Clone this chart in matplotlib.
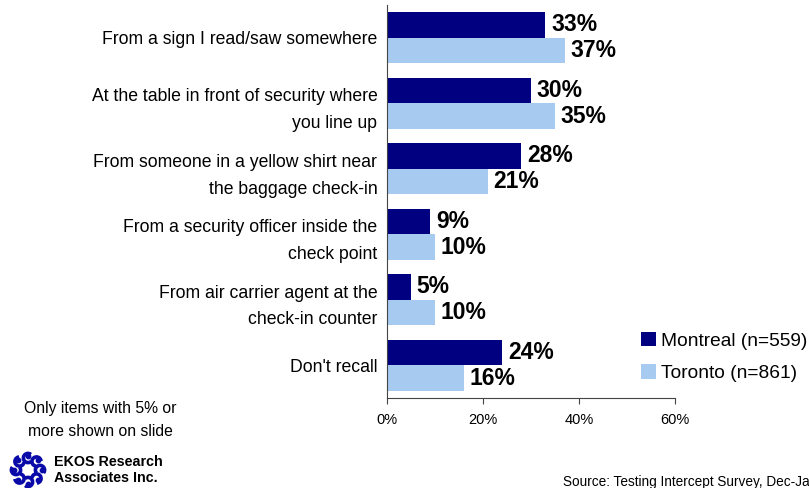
import numpy as np
import matplotlib.pyplot as plt
from matplotlib.patches import Patch, Arc

plt.rcParams['font.family'] = ['Liberation Sans', 'DejaVu Sans']

categories = [
    "From a sign I read/saw somewhere",
    "At the table in front of security where\nyou line up",
    "From someone in a yellow shirt near\nthe baggage check-in",
    "From a security officer inside the\ncheck point",
    "From air carrier agent at the\ncheck-in counter",
    "Don't recall",
]
montreal = [33, 30, 28, 9, 5, 24]
toronto = [37, 35, 21, 10, 10, 16]
series_names = ["Montreal (n=559)", "Toronto (n=861)"]
xticks = [0, 20, 40, 60]

NAVY = "#000080"
LIGHT = "#A6CAF0"
W, H = 809, 488

fig = plt.figure(figsize=(W / 100, H / 100), dpi=100)
ax = fig.add_axes([387 / W, 1 - 398 / H, 288 / W, 393 / H])

y = np.arange(len(categories))
h = 0.39
ax.barh(y - h / 2, montreal, height=h, color=NAVY)
ax.barh(y + h / 2, toronto, height=h, color=LIGHT)

for yi, v in zip(y - h / 2, montreal):
    ax.text(v + 1.2, yi, f"{v}%", va="center", ha="left",
            fontsize=16.5, fontweight="bold")
for yi, v in zip(y + h / 2, toronto):
    ax.text(v + 1.2, yi, f"{v}%", va="center", ha="left",
            fontsize=16.5, fontweight="bold")

ax.set_xlim(0, 60)
ax.set_ylim(len(categories) - 0.5, -0.5)
ax.set_xticks(xticks)
ax.set_xticklabels([f"{t}%" for t in xticks], fontsize=10.5)
ax.set_yticks(y)
ax.set_yticklabels(categories, fontsize=12.7, linespacing=1.75)
ax.tick_params(axis="y", length=0, pad=7)
ax.tick_params(axis="x", direction="out", length=4, pad=7, color="#444444")
for side in ["top", "right"]:
    ax.spines[side].set_visible(False)
ax.spines["left"].set_color("#444444")
ax.spines["bottom"].set_color("#444444")

handles = [Patch(facecolor=NAVY), Patch(facecolor=LIGHT)]
fig.legend(handles, series_names, loc="upper left",
           bbox_to_anchor=(633 / W, 1 - 324 / H), frameon=False,
           fontsize=13.8, handlelength=0.78, handleheight=0.78,
           handletextpad=0.26, labelspacing=0.77, borderaxespad=0)

# footnotes
fig.text(100 / W, 1 - 409 / H, "Only items with 5% or", ha="center",
         va="center", fontsize=11.3)
fig.text(100 / W, 1 - 432 / H, "more shown on slide", ha="center",
         va="center", fontsize=11.3)
fig.text(54 / W, 1 - 462 / H, "EKOS Research", ha="left", va="center",
         fontsize=10.3, fontweight="bold")
fig.text(54 / W, 1 - 478 / H, "Associates Inc.", ha="left", va="center",
         fontsize=10.3, fontweight="bold")
fig.text(563 / W, 1 - 482 / H, "Source: Testing Intercept Survey, Dec-Jan 2005",
         ha="left", va="center", fontsize=9.8)

# logo: ring of curled swirls
lax = fig.add_axes([8 / W, 1 - 490 / H, 40 / W, 40 / H])
lax.set_xlim(-1.2, 1.2)
lax.set_ylim(-1.2, 1.2)
lax.set_aspect("equal")
lax.axis("off")
blue = "#0a0aa8"
for a in np.linspace(0, 2 * np.pi, 8, endpoint=False):
    cx, cy = 0.72 * np.cos(a), 0.72 * np.sin(a)
    lax.add_patch(Arc((cx, cy), 0.55, 0.55, theta1=np.degrees(a) - 40,
                      theta2=np.degrees(a) + 220, color=blue, lw=2.6))
    lax.scatter([cx + 0.1 * np.cos(a)], [cy + 0.1 * np.sin(a)], s=10,
                color=blue)

fig.savefig("out.png", dpi=100)
